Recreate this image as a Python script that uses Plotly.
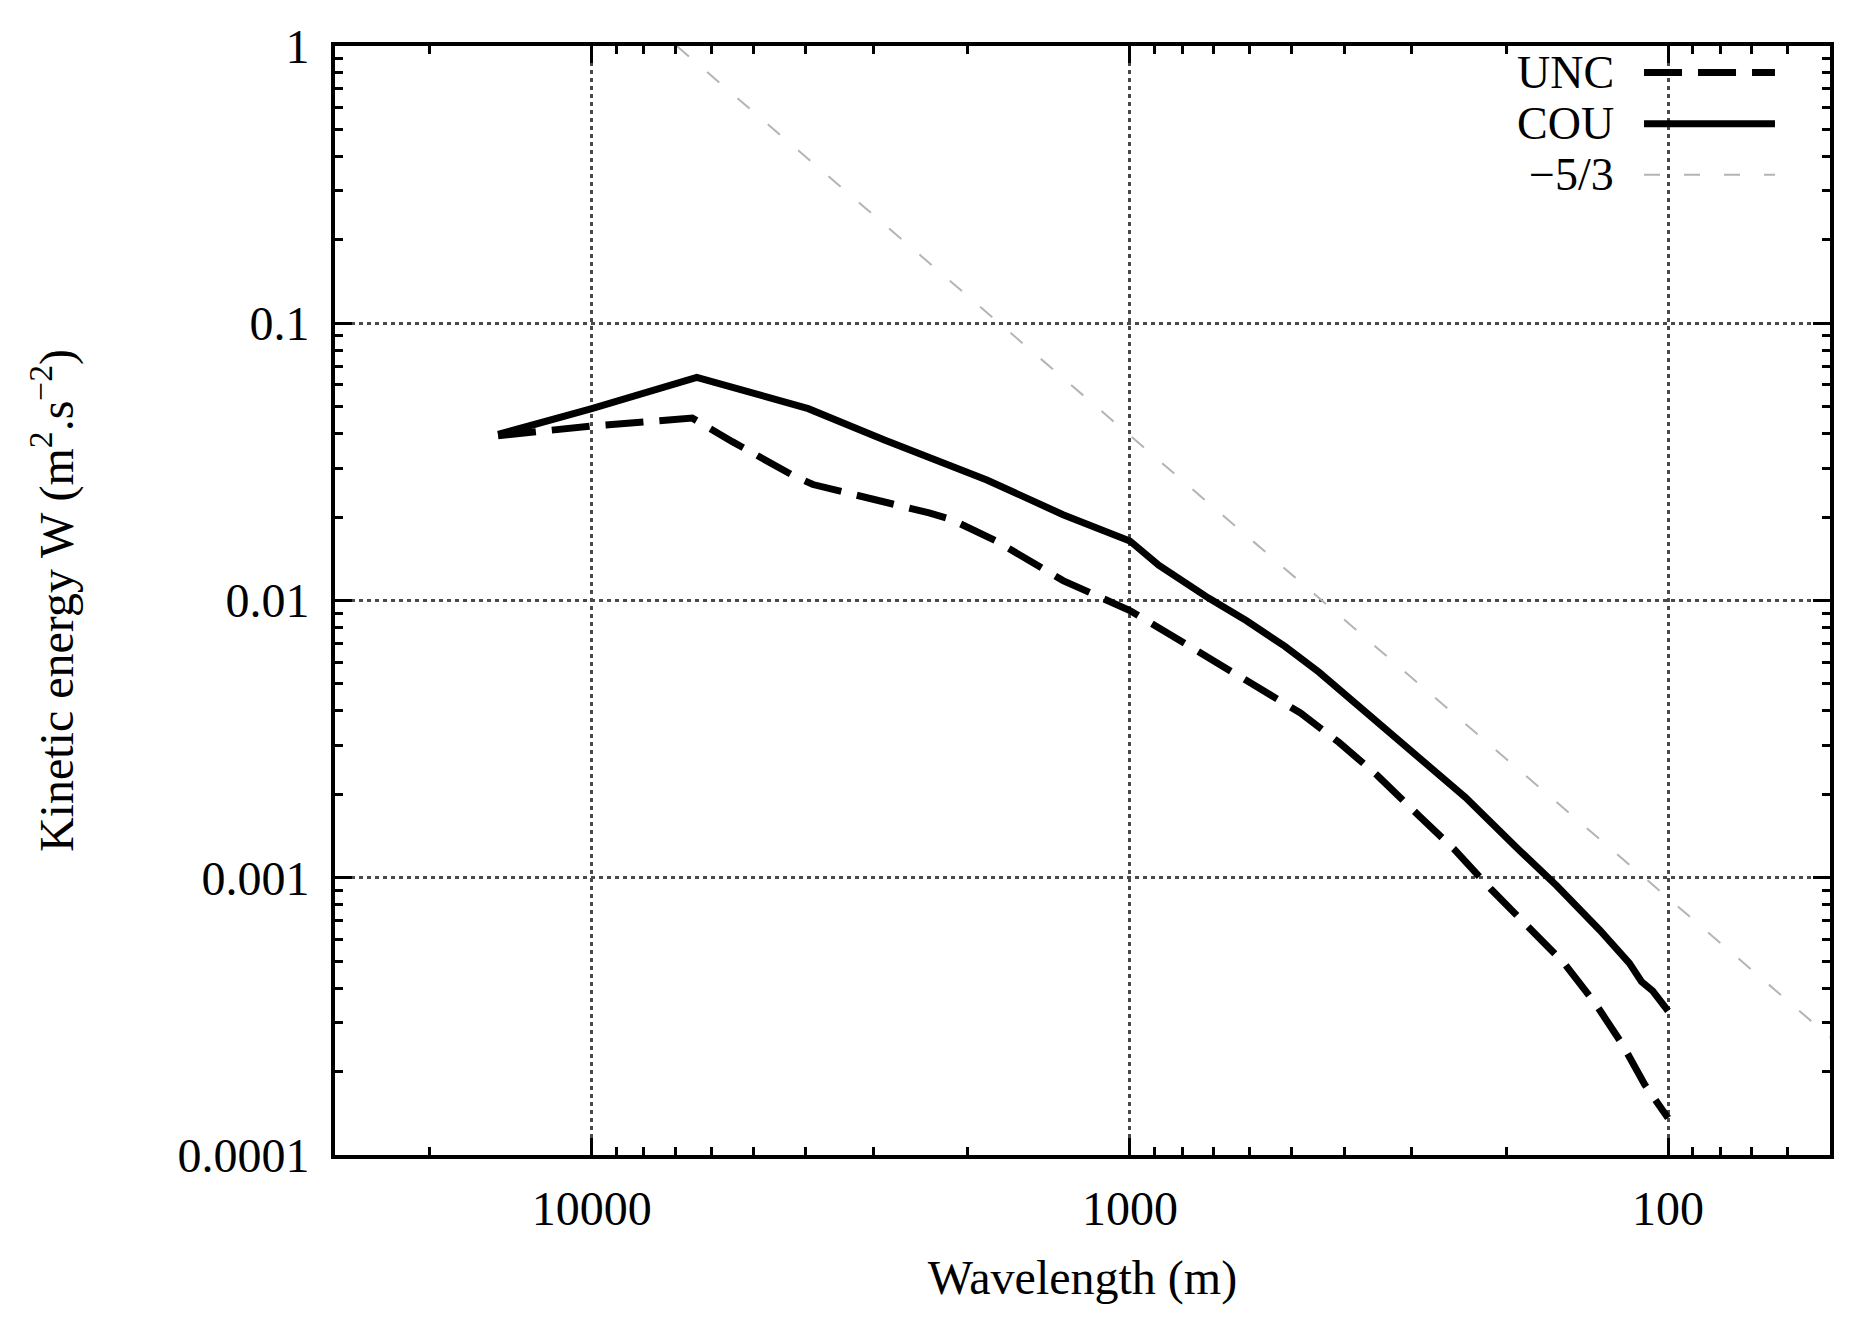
import plotly.graph_objects as go

# ---- data ----
unc_wavelength = [14930, 10000, 6505, 5480, 4190, 3880, 2361, 2148, 1773, 1331, 1000,
                  802, 692, 568, 482, 409, 347, 290, 250, 213, 180, 156, 136.5, 121.6, 110.4, 100]
unc_energy = [0.0393, 0.0426, 0.0455, 0.0374, 0.028, 0.0262, 0.0207, 0.0196, 0.0164, 0.0118, 0.0092,
              0.00714, 0.00604, 0.0048, 0.00393, 0.00308, 0.00234, 0.00167, 0.00127, 0.000907,
              0.000648, 0.000492, 0.000352, 0.000251, 0.000179, 0.000136]

cou_wavelength = [14930, 10000, 6380, 3960, 2858, 1844, 1331, 1000, 884, 714, 607, 515, 445,
                  371, 295, 238, 190, 161, 134, 118, 112, 106.8, 100]
cou_energy = [0.0397, 0.0492, 0.0638, 0.0492, 0.0379, 0.0272, 0.0204, 0.0164, 0.0134, 0.0102,
              0.00845, 0.00683, 0.00551, 0.00406, 0.00281, 0.00195, 0.00127, 0.000935,
              0.000648, 0.000492, 0.000422, 0.000391, 0.000331]

ref_wavelength = [6950, 50]
ref_energy = [1.0, 0.000266]

legend_labels = ["UNC", "COU", "\u22125/3"]
x_tick_vals = [10000, 1000, 100]
x_tick_text = ["10000", "1000", "100"]
y_tick_vals = [0.0001, 0.001, 0.01, 0.1, 1]
y_tick_text = ["0.0001", "0.001", "0.01", "0.1", "1"]

FONT = "Liberation Serif"
FSIZE = 48
BLACK = "#000000"
UNC_DASH = "38px,16px"
REF_DASH = "16px,24px"
REF_COLOR = "#b4b4b4"
LW = 7

fig = go.Figure()
fig.add_trace(go.Scatter(x=ref_wavelength, y=ref_energy, mode="lines",
                         line=dict(color=REF_COLOR, width=2, dash=REF_DASH),
                         name=legend_labels[2], showlegend=False))
fig.add_trace(go.Scatter(x=unc_wavelength, y=unc_energy, mode="lines",
                         line=dict(color=BLACK, width=LW, dash=UNC_DASH),
                         name=legend_labels[0], showlegend=False))
fig.add_trace(go.Scatter(x=cou_wavelength, y=cou_energy, mode="lines",
                         line=dict(color=BLACK, width=LW),
                         name=legend_labels[1], showlegend=False))

axis_common = dict(
    type="log", showline=True, linecolor=BLACK, linewidth=4, mirror="allticks",
    ticks="inside", ticklen=17, tickwidth=3, tickcolor=BLACK,
    showgrid=True, gridcolor="#4a4a4a", gridwidth=2.5, griddash="4px,4px",
    zeroline=False,
    tickfont=dict(family=FONT, size=FSIZE, color=BLACK),
    minor=dict(ticks="inside", ticklen=8, tickwidth=3, tickcolor=BLACK,
               dtick="D1", showgrid=False),
)

fig.update_xaxes(**axis_common, range=[4.4771, 1.699],
                 tickvals=x_tick_vals, ticktext=x_tick_text,
                 ticklabelstandoff=8,
                 title=dict(text="Wavelength (m)", font=dict(family=FONT, size=FSIZE, color=BLACK),
                            standoff=28))
fig.update_yaxes(**axis_common, range=[-4, 0],
                 tickvals=y_tick_vals, ticktext=y_tick_text,
                 ticklabelstandoff=12,
                 title=dict(text="Kinetic energy W (m<sup>2</sup>.s<sup>\u22122</sup>)",
                            font=dict(family=FONT, size=FSIZE, color=BLACK), standoff=90))

# manual legend (text right-aligned, sample on the right, as in the reference)
legend_y = [0.9760, 0.9300, 0.8840]
legend_styles = [dict(color=BLACK, width=LW, dash=UNC_DASH),
                 dict(color=BLACK, width=LW),
                 dict(color=REF_COLOR, width=2, dash=REF_DASH)]
for label, yy, style in zip(legend_labels, legend_y, legend_styles):
    fig.add_annotation(x=0.8563, y=yy, xref="paper", yref="paper", text=label,
                       showarrow=False, xanchor="right", yanchor="middle",
                       borderpad=0,
                       font=dict(family=FONT, size=46, color=BLACK))
    fig.add_shape(type="line", xref="paper", yref="paper", x0=0.8756, x1=0.9632,
                  y0=yy, y1=yy, line=style)

fig.update_layout(width=1856, height=1325,
                  margin=dict(l=327, r=34, t=28, b=178, pad=0),
                  plot_bgcolor="white", paper_bgcolor="white",
                  showlegend=False)

fig.write_html("out.html")
